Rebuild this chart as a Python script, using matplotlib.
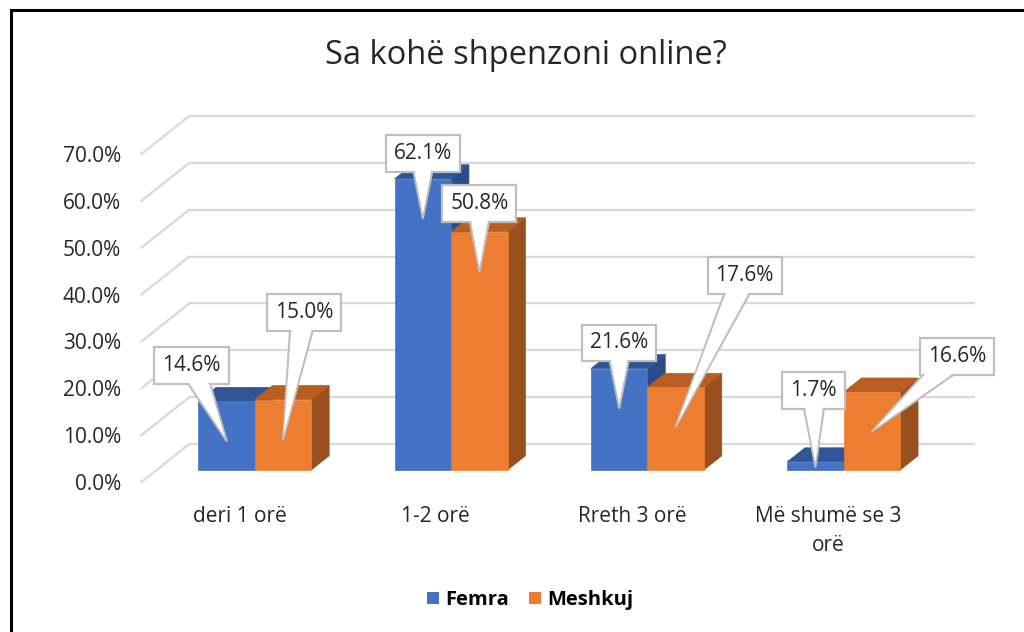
import numpy as np
import matplotlib.pyplot as plt
from matplotlib.patches import Patch, Rectangle, Polygon

# data
categories = ['deri 1 orë', '1-2 orë', 'Rreth 3 orë', 'Më shumë se 3\norë']
series_names = ['Femra', 'Meshkuj']
femra = [14.6, 62.1, 21.6, 1.7]
meshkuj = [15.0, 50.8, 17.6, 16.6]
y_ticks = [0, 10, 20, 30, 40, 50, 60, 70]

# callout box offsets (pixels, box centre relative to pointer tip)
offs_femra = [(-35, 75), (0, 65), (0, 65), (-2, 76)]
offs_meshkuj = [(21, 126), (0, 68), (69, 151), (85, 75)]

plt.rcParams['font.family'] = ['Open Sans', 'DejaVu Sans']

W, H = 1024, 632
fig = plt.figure(figsize=(W / 100, H / 100), dpi=100)

# fake 3d geometry, in pixels
px_cat = 196.3      # px per category
px_pct = 4.686      # px per percent
x0_px = 287.5       # first category on the back wall
y0_px = 444         # 0% line on the back wall (from top)
depth_px = (-48, 38)  # back wall -> front edge
xlim = (-0.75, 3.5)
ylim = (-9, 72)

left = x0_px + xlim[0] * px_cat
right = x0_px + xlim[1] * px_cat
bottom = y0_px - ylim[0] * px_pct
top = y0_px - ylim[1] * px_pct
ax = fig.add_axes([left / W, 1 - bottom / H, (right - left) / W, (bottom - top) / H])
ax.set_xlim(xlim)
ax.set_ylim(ylim)
for s in ax.spines.values():
    s.set_visible(False)

ddx = depth_px[0] / px_cat
ddy = -depth_px[1] / px_pct

# back wall gridlines + side wall diagonals
grid_c = '#D9D9D9'
for v in y_ticks:
    ax.plot([-0.5, 3.5], [v, v], color=grid_c, lw=1.6, zorder=1, solid_capstyle='butt')
    ax.plot([-0.5, -0.5 + ddx], [v, v + ddy], color=grid_c, lw=1.6, zorder=1)

txt_c = '#262626'
ax.set_yticks(np.array(y_ticks) + ddy, [f'{v:.1f}%' for v in y_ticks])
ax.set_xticks(np.arange(len(categories)) + ddx, categories)
ax.tick_params(length=0, labelsize=15, labelcolor=txt_c)
ax.tick_params(axis='y', pad=14)
ax.tick_params(axis='x', pad=14)
for t in ax.get_xticklabels():
    t.set_linespacing(1.55)

# bars
bw = 0.288
f_front = 0.68
f_back = 0.31
sx = (f_back - f_front) * ddx
sy = (f_back - f_front) * ddy
colors = [('#4472C4', '#2F5597', '#2B4C88'), ('#ED7D31', '#B95E22', '#9A4F1E')]
series = [femra, meshkuj]
offsets = [offs_femra, offs_meshkuj]

z = 2
for i in range(len(categories)):
    for s, vals in enumerate(series):
        front_c, top_c, side_c = colors[s]
        h = vals[i]
        xl = i + f_front * ddx + (s - 1) * bw
        yb = f_front * ddy
        top_face = [(xl, yb + h), (xl + bw, yb + h), (xl + bw + sx, yb + h + sy), (xl + sx, yb + h + sy)]
        side_face = [(xl + bw, yb), (xl + bw + sx, yb + sy), (xl + bw + sx, yb + h + sy), (xl + bw, yb + h)]
        ax.add_patch(Polygon(side_face, closed=True, fc=side_c, ec=side_c, lw=0.5, zorder=z))
        ax.add_patch(Polygon(top_face, closed=True, fc=top_c, ec=top_c, lw=0.5, zorder=z + 0.1))
        ax.bar(xl, h, width=bw, bottom=yb, align='edge', color=front_c, ec=front_c, lw=0.5, zorder=z + 0.2)
        z += 1

# callouts
z = 20
for s, vals in enumerate(series):
    for i, v in enumerate(vals):
        xl = i + f_front * ddx + (s - 1) * bw
        tip = (xl + bw / 2, f_front * ddy + max(v - 8.4, 0.4 * v))
        lab = f'{v:.1f}%'
        ax.annotate(lab, xy=tip, xytext=offsets[s][i], textcoords='offset pixels',
                    ha='center', va='center', fontsize=15, color='none', zorder=z,
                    bbox=dict(boxstyle='square,pad=0.38', fc='white', ec='#BFBFBF', lw=1.6),
                    arrowprops=dict(arrowstyle='wedge,tail_width=1.25', fc='white', ec='#BFBFBF',
                                    lw=1.6, patchA=None, shrinkA=0, shrinkB=0),
                    annotation_clip=False)
        ax.annotate(lab, xy=tip, xytext=offsets[s][i], textcoords='offset pixels',
                    ha='center', va='center', fontsize=15, color=txt_c, zorder=z + 1,
                    arrowprops=dict(arrowstyle='wedge,tail_width=1.1', fc='white', ec='none',
                                    lw=0, patchA=None, shrinkA=0, shrinkB=3),
                    annotation_clip=False)
        z += 2

fig.text(526 / W, 1 - 55 / H, 'Sa kohë shpenzoni online?', ha='center', va='center',
         fontsize=23.5, color=txt_c)

handles = [Patch(fc=colors[0][0]), Patch(fc=colors[1][0])]
fig.legend(handles, series_names, loc='center', bbox_to_anchor=(530 / W, 1 - 600 / H), ncol=2,
           frameon=False, prop={'weight': 'bold', 'size': 14.5}, handlelength=0.6, handleheight=0.6,
           handletextpad=0.3, columnspacing=1.0)

# black frame (cut on the right and bottom)
fig.add_artist(Rectangle((11 / W, -0.1), 1.2, 1 - 10 / H + 0.1, transform=fig.transFigure,
                         fill=False, ec='black', lw=2.2))

fig.savefig('out.png', dpi=100)
